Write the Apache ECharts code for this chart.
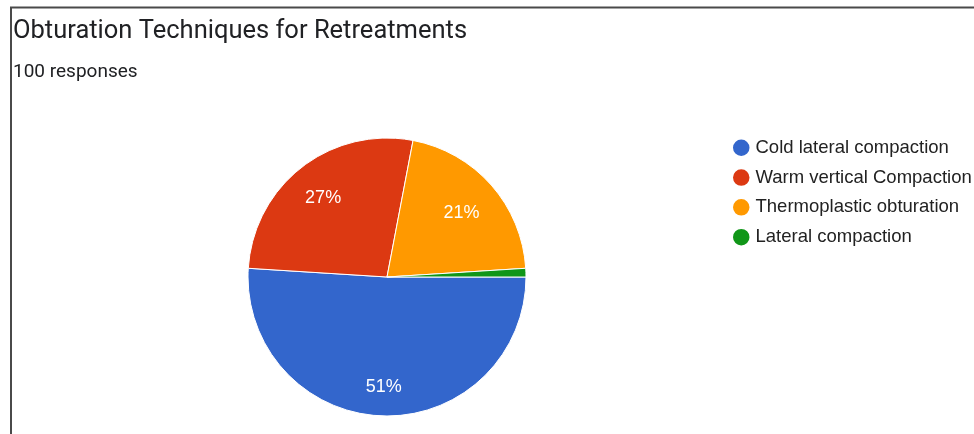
<!DOCTYPE html>
<html>
<head>
<meta charset="utf-8">
<script src="https://cdn.jsdelivr.net/npm/echarts@6/dist/echarts.min.js"></script>
<style>
  html, body { margin: 0; padding: 0; background: #fff; }
  #chart { width: 974px; height: 434px; }
</style>
</head>
<body>
<div id="chart"></div>
<script>
// Survey answers: obturation technique used for retreatments (100 responses)
const categories = [
  'Cold lateral compaction',
  'Warm vertical Compaction',
  'Thermoplastic obturation',
  'Lateral compaction'
];
const responses = [51, 27, 21, 1];
const sliceColors = ['#3366cc', '#dc3912', '#ff9900', '#109618'];

const pieData = categories.map((name, i) => ({ name, value: responses[i] }));
const total = responses.reduce((a, b) => a + b, 0);

// per-slice fine shift of the percentage labels, in pixels
const labelShift = [[0, 4], [1, 5], [-5, 6], [0, 0]];

const chart = echarts.init(document.getElementById('chart'), null, { renderer: 'canvas' });

const center = [387, 277];
const outerR = 139;

chart.setOption({
  animation: false,
  color: sliceColors,
  title: [
    {
      text: 'Obturation Techniques for Retreatments',
      left: 13, top: 19, padding: 0,
      textStyle: { fontFamily: 'Roboto', fontSize: 25.5, fontWeight: 'normal', color: '#202124' }
    },
    {
      text: '100 responses',
      left: 13, top: 63, padding: 0,
      textStyle: { fontFamily: 'Roboto', fontSize: 19, fontWeight: 'normal', color: '#202124' }
    }
  ],
  legend: {
    orient: 'vertical',
    left: 731, top: 137.5, padding: 0,
    icon: 'circle',
    itemWidth: 18.5, itemHeight: 18.5,
    itemGap: 9.3,
    textStyle: { fontFamily: 'Liberation Sans, Arial', fontSize: 18.5, color: '#222222' },
    data: categories
  },
  graphic: [
    {
      type: 'polyline',
      silent: true,
      shape: { points: [[11, 434], [11, 7.5], [974, 7.5]] },
      style: { stroke: '#4a4a4a', lineWidth: 2, fill: null }
    }
  ],
  series: [
    {
      type: 'pie',
      center: center,
      radius: [0, outerR],
      startAngle: 0,
      clockwise: true,
      avoidLabelOverlap: false,
      label: { show: false },
      labelLine: { show: false },
      itemStyle: { borderColor: '#ffffff', borderWidth: 1 },
      data: pieData
    },
    {
      // transparent ring used only to place the percentage labels
      type: 'pie',
      center: center,
      radius: [outerR * 0.48, outerR],
      startAngle: 0,
      clockwise: true,
      silent: true,
      legendHoverLink: false,
      avoidLabelOverlap: false,
      itemStyle: { color: 'rgba(0,0,0,0)' },
      labelLine: { show: false },
      label: {
        show: true,
        position: 'inside',
        fontFamily: 'Liberation Sans, Arial',
        fontSize: 18,
        color: '#ffffff',
        formatter: p => (p.value / total * 100 < 5 ? '' : Math.round(p.value / total * 100) + '%')
      },
      labelLayout: p => ({ dx: labelShift[p.dataIndex][0], dy: labelShift[p.dataIndex][1] }),
      data: pieData
    }
  ]
});
</script>
</body>
</html>
